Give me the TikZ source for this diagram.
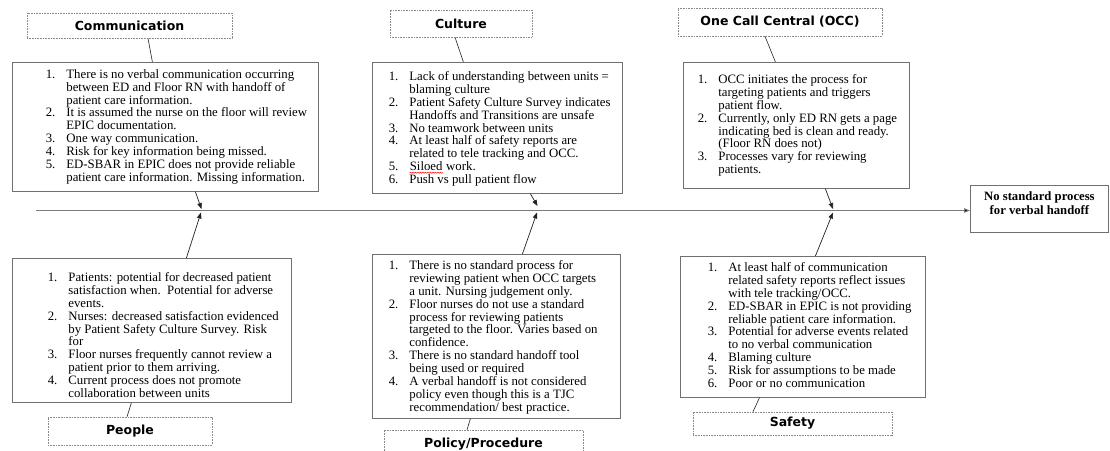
\documentclass[tikz,border=0pt]{standalone}
\usepackage{fontspec}
\setmainfont{Liberation Serif}
\newfontfamily\headfont{DejaVu Sans}
\usetikzlibrary{arrows.meta, decorations.pathmorphing}
\usepackage{xcolor}
\definecolor{boxgray}{HTML}{707070}
\definecolor{dotgray}{HTML}{8A8A8A}
\definecolor{spinegray}{HTML}{7A7A7A}
\definecolor{linecol}{HTML}{222222}

% #1 width, #2 height, #3 text indent, #4 top gap, #5 items
\newcommand{\causelist}[5]{%
  \begin{minipage}[t][#2][t]{#1}%
  \vspace*{#4}%
  \begin{list}{\arabic{enumi}.}{\usecounter{enumi}%
    \setlength{\leftmargin}{#3}\setlength{\labelsep}{11pt}%
    \setlength{\labelwidth}{20pt}\setlength{\itemsep}{0pt}%
    \setlength{\parsep}{0pt}\setlength{\topsep}{0pt}%
    \setlength{\partopsep}{0pt}\setlength{\rightmargin}{0pt}}%
  \raggedright #5
  \end{list}\end{minipage}}
\newcommand{\redsquig}[1]{\tikz[baseline=(sq.base)]{\node[inner sep=0pt, anchor=base] (sq) {#1};
  \draw[red, line width=0.5pt, decorate, decoration={snake, amplitude=0.6pt, segment length=2.5pt}]
    ([yshift=-2pt]sq.base west) -- ([yshift=-2pt]sq.base east);}}

\begin{document}
\begin{tikzpicture}[
    x=1pt, y=-1pt,
    headbox/.style={rectangle, draw=dotgray, dash pattern=on 0.8pt off 0.8pt, line width=0.6pt,
      font=\headfont\bfseries\fontsize{12.5}{14}\selectfont, inner sep=0pt},
    causebox/.style={rectangle, draw=boxgray, line width=0.8pt, inner sep=0pt, anchor=north west,
      font=\fontsize{12.8}{12.9}\selectfont},
    outbox/.style={rectangle, draw=boxgray, line width=0.8pt, inner sep=0pt, anchor=north west,
      font=\bfseries\fontsize{12.7}{14}\selectfont},
    link/.style={draw=linecol, line width=0.6pt},
    arr/.style={draw=linecol, line width=0.7pt, -{Triangle[length=6pt, width=4.5pt]}},
    spine/.style={draw=spinegray, line width=0.9pt, -{Triangle[length=6pt, width=4.5pt, fill=black]}}
]
\useasboundingbox[fill=white] (0,0) rectangle (1110,450);

% effect
\node[outbox] (effect) at (970,185) {\begin{minipage}[t][47pt][t]{138pt}\centering
  \vspace*{6pt}No standard process\\for verbal handoff\end{minipage}};
\coordinate (spinestart) at (36,210.5);
\draw[spine] (spinestart) -- (spinestart -| effect.west);

% upper causes
\node[headbox, minimum width=205pt, minimum height=25pt] (commhead) at (129.5,25.5) {Communication};
\node[causebox] (commbox) at (12,62) {\causelist{306pt}{129pt}{54pt}{7pt}{%
  \item There is no verbal communication occurring\\ between ED and Floor RN with handoff of\\ patient care information.
  \item It is assumed the nurse on the floor will review\\ EPIC documentation.
  \item One way communication.
  \item Risk for key information being missed.
  \item ED-SBAR in EPIC does not provide reliable\\ patient care information. Missing information.}};

\node[headbox, minimum width=142pt, minimum height=27pt] (culthead) at (461,23.5) {Culture};
\node[causebox] (cultbox) at (372,62) {\causelist{250pt}{131pt}{37pt}{9pt}{%
  \item Lack of understanding between units =\\ blaming culture
  \item Patient Safety Culture Survey indicates\\ Handoffs and Transitions are unsafe
  \item No teamwork between units
  \item At least half of safety reports are\\ related to tele tracking and OCC.
  \item \redsquig{Siloed} work.
  \item Push vs pull patient flow}};

\node[headbox, minimum width=204pt, minimum height=28pt] (occhead) at (780,22) {One Call Central (OCC)};
\node[causebox] (occbox) at (683,62) {\causelist{226pt}{126pt}{35pt}{12pt}{%
  \item OCC initiates the process for\\ targeting patients and triggers\\ patient flow.
  \item Currently, only ED RN gets a page\\ indicating bed is clean and ready.\\ (Floor RN does not)
  \item Processes vary for reviewing\\ patients.}};

% lower causes
\node[causebox] (peoplebox) at (12,258) {\causelist{279pt}{144pt}{56pt}{14pt}{%
  \item Patients: potential for decreased patient\\ satisfaction when.\ \ Potential for adverse\\ events.
  \item Nurses: decreased satisfaction evidenced\\ by Patient Safety Culture Survey. Risk\\ for
  \item Floor nurses frequently cannot review a\\ patient prior to them arriving.
  \item Current process does not promote\\ collaboration between units}};
\node[headbox, minimum width=164pt, minimum height=28pt] (peoplehead) at (130,431) {People};

\node[causebox] (policybox) at (372,254) {\causelist{248pt}{164pt}{37pt}{6pt}{%
  \item There is no standard process for\\ reviewing patient when OCC targets\\ a unit. Nursing judgement only.
  \item Floor nurses do not use a standard\\ process for reviewing patients\\ targeted to the floor. Varies based on\\ confidence.
  \item There is no standard handoff tool\\ being used or required
  \item A verbal handoff is not considered\\ policy even though this is a TJC\\ recommendation/ best practice.}};
\node[headbox, minimum width=199pt, minimum height=28pt] (policyhead) at (483.5,444) {Policy/Procedure};

\node[causebox] (safetybox) at (680,256) {\causelist{245pt}{141pt}{48pt}{6pt}{%
  \item At least half of communication\\ related safety reports reflect issues\\ with tele tracking/OCC.
  \item ED-SBAR in EPIC is not providing\\ reliable patient care information.
  \item Potential for adverse events related\\ to no verbal communication
  \item Blaming culture
  \item Risk for assumptions to be made
  \item Poor or no communication}};
\node[headbox, minimum width=199pt, minimum height=23pt] (safetyhead) at (792.5,423.5) {Safety};

% bones
\coordinate (commhit) at (201.5,209);
\coordinate (peoplehit) at (201,212.5);
\coordinate (culthit) at (537.5,206);
\coordinate (policyhit) at (537,212.5);
\coordinate (occhit) at (833,209);
\coordinate (safetyhit) at (833,212.5);

\draw[link] ([xshift=18.5pt]commhead.south) -- ([xshift=-13pt]commbox.north);
\draw[arr] ([xshift=30pt]commbox.south) -- (commhit);
\draw[arr] ([xshift=34.5pt]peoplebox.north) -- (peoplehit);
\draw[link] ([xshift=-20.5pt]peoplebox.south) -- ([xshift=-3pt]peoplehead.north);

\draw[link] ([xshift=-6pt]culthead.south) -- ([xshift=-34pt]cultbox.north);
\draw[arr] ([xshift=33pt]cultbox.south) -- (culthit);
\draw[arr] ([xshift=26pt]policybox.north) -- (policyhit);
\draw[link] ([xshift=-26pt]policybox.south) -- ([xshift=-16.5pt]policyhead.north);

\draw[link] ([xshift=-15pt]occhead.south) -- ([xshift=-21pt]occbox.north);
\draw[arr] ([xshift=29pt]occbox.south) -- (occhit);
\draw[arr] ([xshift=12.5pt]safetybox.north) -- (safetyhit);
\draw[link] ([xshift=-43.5pt]safetybox.south) -- ([xshift=-39.5pt]safetyhead.north);
\end{tikzpicture}
\end{document}
